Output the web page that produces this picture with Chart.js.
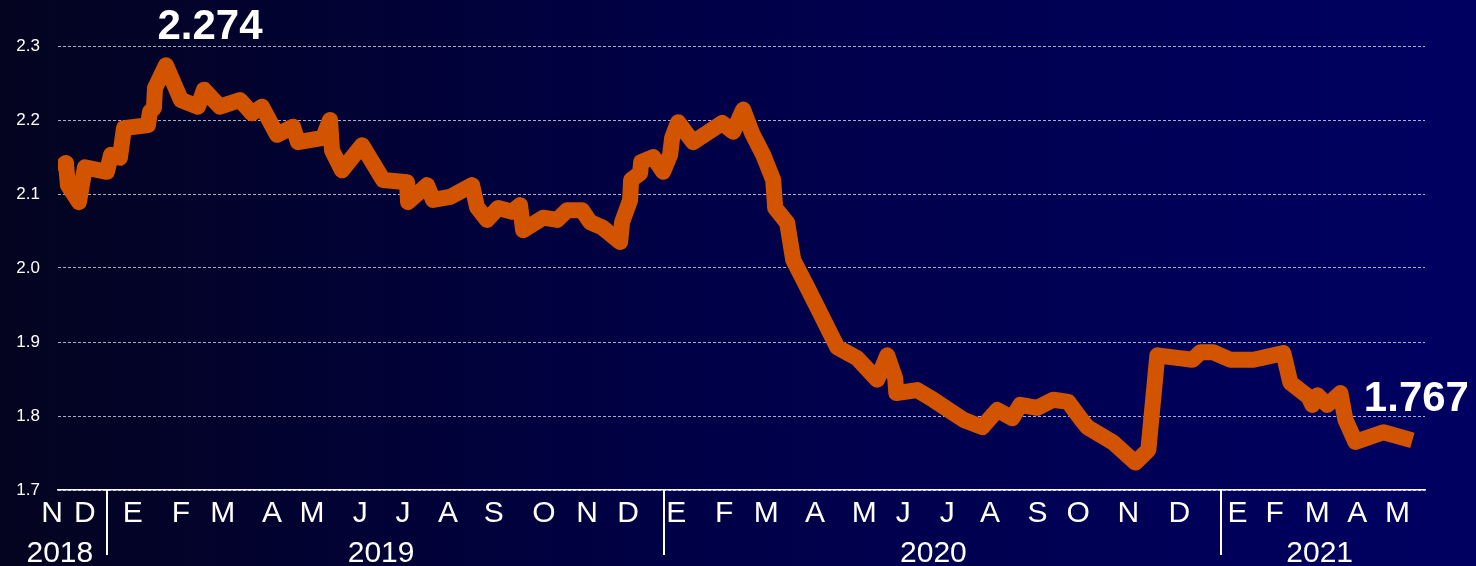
<!DOCTYPE html>
<html>
<head>
<meta charset="utf-8">
<script src="https://cdn.jsdelivr.net/npm/chart.js@4.4.0/dist/chart.umd.min.js"></script>
<style>
    html, body { margin: 0; padding: 0; background: #02021c; }
    #chartTasa { display: block; }
</style>
</head>
<body>
<canvas id="chartTasa" width="1476" height="566"></canvas>
<script>
// x = months counted from 1 Nov 2018 (2 = Jan 2019, 14 = Jan 2020, 26 = Jan 2021)
var monthPos = [0.948, 1.121, 1.164, 1.401, 1.530, 2.004, 2.091, 2.284, 2.371, 2.888,
    2.931, 3.017, 3.039, 3.276, 3.599, 3.966, 4.095, 4.440, 4.871, 5.129,
    5.345, 5.668, 6.013, 6.121, 6.659, 6.810, 6.853, 7.069, 7.500, 7.953,
    8.470, 8.491, 8.901, 9.030, 9.397, 9.871, 9.978, 10.194, 10.431, 10.733,
    10.905, 10.970, 11.401, 11.703, 11.918, 12.241, 12.414, 12.672, 13.060, 13.103,
    13.276, 13.297, 13.491, 13.513, 13.772, 13.987, 14.138, 14.181, 14.310, 14.634,
    15.259, 15.496, 15.711, 15.905, 16.142, 16.358, 16.401, 16.659, 16.789, 17.091,
    17.371, 17.737, 18.168, 18.599, 18.815, 18.987, 19.009, 19.461, 19.806, 20.453,
    20.862, 21.185, 21.509, 21.681, 22.047, 22.392, 22.716, 22.974, 23.125, 23.685,
    24.159, 24.440, 24.634, 25.388, 25.560, 25.841, 26.207, 26.703, 27.349, 27.500,
    27.888, 27.974, 28.082, 28.297, 28.578, 28.685, 28.901, 29.504, 30.129];

var rateValues = [2.132, 2.142, 2.112, 2.089, 2.136, 2.130, 2.153, 2.149, 2.189, 2.193,
    2.211, 2.216, 2.243, 2.274, 2.227, 2.218, 2.241, 2.218, 2.227, 2.209,
    2.218, 2.180, 2.191, 2.170, 2.176, 2.200, 2.159, 2.132, 2.166, 2.119,
    2.116, 2.089, 2.112, 2.092, 2.096, 2.112, 2.082, 2.065, 2.081, 2.076,
    2.085, 2.051, 2.068, 2.065, 2.078, 2.078, 2.062, 2.055, 2.035, 2.062,
    2.092, 2.119, 2.128, 2.143, 2.150, 2.130, 2.153, 2.176, 2.197, 2.170,
    2.196, 2.184, 2.214, 2.182, 2.153, 2.119, 2.081, 2.061, 2.011, 1.974,
    1.939, 1.893, 1.878, 1.849, 1.882, 1.851, 1.831, 1.835, 1.822, 1.795,
    1.785, 1.808, 1.797, 1.815, 1.811, 1.822, 1.819, 1.797, 1.785, 1.764,
    1.737, 1.754, 1.882, 1.876, 1.886, 1.886, 1.876, 1.876, 1.885, 1.845,
    1.826, 1.815, 1.828, 1.815, 1.831, 1.795, 1.765, 1.778, 1.767];

var monthLetters = ['N', 'D',
    'E', 'F', 'M', 'A', 'M', 'J', 'J', 'A', 'S', 'O', 'N', 'D',
    'E', 'F', 'M', 'A', 'M', 'J', 'J', 'A', 'S', 'O', 'N', 'D',
    'E', 'F', 'M', 'A', 'M'];
var monthTicks = [0.82, 1.53,
    2.56, 3.60, 4.50, 5.56, 6.42, 7.46, 8.38, 9.35, 10.34, 11.42, 12.35, 13.23,
    14.27, 15.30, 16.21, 17.26, 18.32, 19.16, 20.11, 21.03, 22.05, 22.93, 24.01, 25.11,
    26.36, 27.16, 28.08, 28.94, 29.81];

var yearLabels = ['2018', '2019', '2020', '2021'];
var yearTicks = [0.99, 7.91, 19.81, 28.13];
var yearBreaks = [2, 14, 26];

var xMin = 0.95, xMax = 30.4;
var yMin = 1.7, yMax = 2.3, yStep = 0.1;

var TasaChart = function ()
{
    var _self = this;
    var chart;

    var fondo = {
        id: 'fondo',
        beforeDraw: function (c) {
            var ctx = c.ctx;
            var g = ctx.createLinearGradient(0, 0, c.width, 0);
            g.addColorStop(0, '#040420');
            g.addColorStop(0.45, '#000046');
            g.addColorStop(1, '#000062');
            ctx.save();
            ctx.fillStyle = g;
            ctx.fillRect(0, 0, c.width, c.height);
            ctx.restore();
        }
    };

    var cortesAnio = {
        id: 'cortesAnio',
        afterDraw: function (c) {
            var ctx = c.ctx;
            var x = c.scales.x;
            ctx.save();
            ctx.strokeStyle = '#ffffff';
            ctx.lineWidth = 2;
            yearBreaks.forEach(function (v) {
                var px = Math.round(x.getPixelForValue(v));
                ctx.beginPath();
                ctx.moveTo(px, c.chartArea.bottom);
                ctx.lineTo(px, 555);
                ctx.stroke();
            });
            ctx.restore();
        }
    };

    var etiquetas = {
        id: 'etiquetas',
        afterDatasetsDraw: function (c) {
            var ctx = c.ctx;
            var pts = c.getDatasetMeta(0).data;
            var iMax = rateValues.indexOf(Math.max.apply(null, rateValues));
            var iLast = rateValues.length - 1;
            ctx.save();
            ctx.fillStyle = '#ffffff';
            ctx.font = 'bold 42px "Liberation Sans", Arial, sans-serif';
            ctx.textAlign = 'center';
            ctx.textBaseline = 'middle';
            ctx.fillText(rateValues[iMax].toFixed(3), pts[iMax].x + 44, pts[iMax].y - 38);
            ctx.fillText(rateValues[iLast].toFixed(3), pts[iLast].x + 4, pts[iLast].y - 41);
            ctx.restore();
        }
    };

    this.build = function ()
    {
        Chart.defaults.font.family = '"Liberation Sans", Arial, sans-serif';

        chart = new Chart(document.getElementById('chartTasa'), {
            type: 'line',
            data: {
                datasets: [{
                        data: monthPos.map(function (m, i) {
                            return {x: m, y: rateValues[i]};
                        }),
                        borderColor: '#d35400',
                        borderWidth: 16,
                        borderJoinStyle: 'round',
                        borderCapStyle: 'butt',
                        pointRadius: 0,
                        tension: 0,
                        fill: false
                    }]
            },
            options: {
                responsive: false,
                animation: false,
                devicePixelRatio: 1,
                layout: {
                    padding: {left: 0, right: 51, top: 46, bottom: 0}
                },
                plugins: {
                    legend: {display: false},
                    tooltip: {enabled: false}
                },
                scales: {
                    x: {
                        type: 'linear',
                        position: 'bottom',
                        weight: 0,
                        min: xMin,
                        max: xMax,
                        grid: {display: false, drawTicks: false},
                        border: {display: true, color: '#ffffff', width: 1.5},
                        afterBuildTicks: function (s) {
                            s.ticks = monthTicks.map(function (v) {
                                return {value: v};
                            });
                        },
                        afterFit: function (s) {
                            s.height = 42;
                        },
                        ticks: {
                            autoSkip: false,
                            maxRotation: 0,
                            padding: 6,
                            color: '#ffffff',
                            font: {size: 30},
                            callback: function (v, i) {
                                return monthLetters[i];
                            }
                        }
                    },
                    x2: {
                        type: 'linear',
                        position: 'bottom',
                        weight: 1,
                        min: xMin,
                        max: xMax,
                        grid: {display: false, drawTicks: false},
                        border: {display: false},
                        afterBuildTicks: function (s) {
                            s.ticks = yearTicks.map(function (v) {
                                return {value: v};
                            });
                        },
                        afterFit: function (s) {
                            s.height = 34;
                        },
                        ticks: {
                            autoSkip: false,
                            maxRotation: 0,
                            padding: 4,
                            color: '#ffffff',
                            font: {size: 30},
                            callback: function (v, i) {
                                return yearLabels[i];
                            }
                        }
                    },
                    y: {
                        min: yMin,
                        max: yMax,
                        grid: {
                            color: 'rgba(215,215,230,0.8)',
                            lineWidth: 1,
                            drawTicks: false
                        },
                        border: {display: false, dash: [3, 2]},
                        afterFit: function (s) {
                            s.width = 58;
                        },
                        ticks: {
                            stepSize: yStep,
                            padding: 18,
                            color: '#ffffff',
                            font: {size: 17},
                            callback: function (v) {
                                return Number(v).toFixed(1);
                            }
                        }
                    }
                }
            },
            plugins: [fondo, cortesAnio, etiquetas]
        });
    }

    this.init = function ()
    {
        if (typeof chart != 'undefined') {
            chart.destroy();
        }
        _self.build();
    }

    _self.init();
}

var Tasa = new TasaChart();
</script>
</body>
</html>
